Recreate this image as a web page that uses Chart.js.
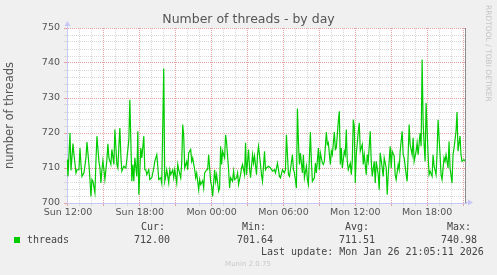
<!DOCTYPE html>
<html lang="en">
<head>
<meta charset="UTF-8">
<title>Number of threads - by day</title>
<script src="https://cdn.jsdelivr.net/npm/chart.js@4.4.1/dist/chart.umd.min.js"></script>
<style>
  html, body { margin: 0; padding: 0; background: #f0f0f0; }
  .chart-container { position: relative; width: 497px; height: 275px; }
</style>
</head>
<body>
<div class="chart-container"><canvas id="chart" width="497" height="275"></canvas></div>
<script>
// minutes after Sun 12:00
var minutes = [
  -5, 0, 10, 15, 25, 30, 40, 45, 55, 60, 65, 70, 80, 90, 95, 105, 110, 115, 120, 125,
  135, 140, 145, 155, 160, 165, 170, 175, 180, 185, 195, 200, 205, 215, 220, 230, 235, 245, 250, 255,
  260, 265, 270, 280, 290, 295, 305, 310, 320, 325,
  330, 335, 345, 350, 355, 365, 370, 380, 385, 390, 395, 405, 410, 420, 430, 435, 445, 450, 455, 465,
  470, 480, 485, 490, 495, 505, 510, 515, 525, 530, 535, 545, 550, 555, 565, 570, 575, 580, 585, 595,
  600, 605, 615, 620, 625, 635, 640, 645, 655, 660, 665,
  675, 680, 685, 695, 700, 705, 715, 720, 725, 735, 740, 745, 755, 760, 765, 770, 775, 785, 790, 795,
  805, 810, 815, 825, 830, 835, 845, 850, 855, 865, 870, 875, 885, 890, 895, 905, 910, 915, 925, 930,
  935, 945, 950, 955, 965, 970, 975, 985, 990, 995, 1005,
  1015, 1025, 1035, 1040, 1050, 1060, 1065, 1075, 1085, 1090, 1095, 1105, 1110, 1115, 1125, 1130, 1135, 1145, 1150, 1155,
  1160, 1165, 1175, 1180, 1185, 1195, 1200, 1205, 1215, 1220, 1225, 1235, 1240, 1245, 1255, 1260, 1265, 1275, 1280, 1285,
  1295, 1300, 1305, 1315, 1320, 1325, 1335, 1340, 1345,
  1355, 1360, 1365, 1370, 1375, 1385, 1390, 1395, 1400, 1405, 1415, 1420, 1425, 1430, 1435, 1440, 1445, 1455, 1460, 1465,
  1475, 1480, 1485, 1495, 1500, 1505, 1515, 1520, 1525, 1535, 1540, 1545, 1555, 1560, 1565, 1575, 1580, 1585, 1595, 1600,
  1605, 1615, 1620, 1625, 1635, 1640, 1645, 1655, 1660, 1665, 1675, 1680, 1685,
  1695, 1700, 1705, 1710, 1715, 1725, 1730, 1735, 1745, 1750, 1755, 1765, 1770, 1775, 1780, 1785, 1790, 1795, 1805, 1810,
  1815, 1825, 1830, 1835, 1845, 1850, 1855, 1865, 1870, 1875, 1885, 1890, 1895, 1905, 1910, 1915, 1925, 1930, 1935, 1945,
  1950, 1955, 1965, 1970, 1975, 1985, 1990
];
var threads = [
  712.4, 707.6, 720.0, 709.3, 717.0, 713.8, 708.6, 709.5, 709.5, 715.7, 711.0, 707.6, 708.6, 712.9, 717.4, 711.0, 706.7, 701.9, 706.7, 706.2,
  702.9, 711.9, 719.1, 711.9, 710.0, 705.7, 709.5, 712.1, 709.5, 706.7, 712.4, 716.9, 712.9, 711.0, 715.3, 711.0, 721.0, 711.0, 710.0, 716.2,
  721.4, 713.4, 709.1, 710.5, 710.0, 712.4, 718.1, 729.5, 706.2, 711.0,
  706.2, 712.9, 707.6, 720.5, 702.4, 715.7, 712.9, 719.1, 709.5, 709.5, 708.1, 709.5, 706.7, 707.2, 710.0, 711.9, 713.8, 710.5, 706.7, 707.2,
  705.7, 738.4, 706.2, 707.6, 709.5, 705.7, 709.5, 708.1, 709.5, 707.2, 709.5, 705.7, 711.0, 709.5, 707.2, 711.4, 722.4, 719.1, 710.0, 711.9,
  709.5, 714.3, 715.3, 711.9, 712.9, 709.5, 707.2, 708.6, 703.8, 706.7, 705.3,
  706.4, 704.3, 708.6, 709.5, 709.5, 713.8, 706.2, 704.8, 701.9, 709.5, 706.2, 708.1, 703.4, 704.3, 716.2, 711.0, 714.8, 712.9, 719.5, 717.2,
  709.5, 704.3, 707.2, 706.2, 709.1, 706.7, 707.2, 708.6, 705.3, 708.1, 710.0, 711.0, 708.1, 717.2, 708.1, 715.3, 710.0, 707.2, 713.8, 711.4,
  713.4, 708.1, 713.8, 716.2, 711.0, 708.1, 706.2, 714.8, 709.5, 710.0, 710.5,
  710.0, 709.1, 709.5, 708.6, 711.4, 707.6, 707.2, 709.5, 708.6, 709.5, 719.5, 708.1, 707.6, 709.5, 713.8, 709.5, 708.6, 704.3, 727.0, 717.6,
  711.0, 714.3, 708.6, 713.8, 707.2, 710.5, 706.7, 705.3, 720.3, 711.9, 706.2, 707.2, 711.4, 708.6, 715.7, 709.5, 714.3, 711.4, 711.0, 711.9,
  720.3, 716.7, 717.2, 711.0, 714.8, 713.8, 720.3, 715.3, 715.7,
  723.4, 726.2, 711.0, 715.7, 710.0, 714.8, 713.8, 721.0, 711.9, 709.5, 711.4, 708.1, 711.9, 723.8, 721.9, 705.7, 713.8, 720.5, 722.9, 714.8,
  716.7, 711.0, 713.8, 708.1, 713.8, 711.9, 720.5, 711.9, 707.6, 711.9, 705.7, 711.9, 708.1, 703.8, 714.3, 710.0, 707.6, 712.9, 710.0, 702.4,
  708.1, 716.2, 710.0, 714.8, 713.4, 708.1, 706.7, 711.0, 709.5, 714.8, 720.5, 713.8, 712.9,
  708.1, 706.2, 713.8, 722.4, 716.7, 713.8, 718.6, 711.9, 714.8, 717.2, 713.8, 720.0, 716.2, 741.0, 723.4, 716.7, 711.9, 728.6, 713.8, 708.1,
  709.1, 707.6, 713.8, 710.5, 708.1, 714.3, 723.8, 713.8, 708.1, 706.7, 712.9, 711.9, 713.8, 710.0, 717.6, 710.0, 705.7, 713.8, 715.7, 720.5,
  726.0, 714.8, 719.1, 713.8, 711.9, 712.4, 712.0
];

// one label every 6 hours, starting at minute 0
var xTickLabels = ['Sun 12:00', 'Sun 18:00', 'Mon 00:00', 'Mon 06:00', 'Mon 12:00', 'Mon 18:00'];
var legendHeads = ['Cur:', 'Min:', 'Avg:', 'Max:'];
var legendValues = ['712.00', '701.64', '711.51', '740.98'];
var lastUpdate = 'Last update: Mon Jan 26 21:05:11 2026';

var MINOR = '#d9d9d9';
var MAJOR = '#e6a0a0';
var AXIS = '#c8c8f8';
var TEXT = '#555555';

Chart.defaults.font.family = '"DejaVu Sans"';
Chart.defaults.color = TEXT;

var muninPlugin = {
    id: 'munin',
    beforeDraw: function (chart) {
        var ctx = chart.ctx, a = chart.chartArea;
        ctx.save();
        ctx.fillStyle = '#f0f0f0';
        ctx.fillRect(0, 0, chart.width, chart.height);
        ctx.fillStyle = '#ffffff';
        ctx.fillRect(a.left, a.top, a.right - a.left, a.bottom - a.top);
        ctx.restore();
    },
    afterDraw: function (chart) {
        var ctx = chart.ctx, a = chart.chartArea;
        var xs = chart.scales.x;
        ctx.save();

        // right edge rule
        var xr = Math.round(xs.getPixelForValue(xs.max)) - 0.5;
        ctx.strokeStyle = '#8a8a8a';
        ctx.lineWidth = 1;
        ctx.beginPath();
        ctx.moveTo(xr, a.top);
        ctx.lineTo(xr, a.bottom);
        ctx.stroke();

        // axis extensions + arrows
        var x0 = Math.round(a.left) + 0.5, y0 = Math.round(a.bottom) - 0.5;
        ctx.strokeStyle = AXIS;
        ctx.beginPath();
        ctx.moveTo(x0, a.top);
        ctx.lineTo(x0, a.top - 3);
        ctx.moveTo(a.right, y0);
        ctx.lineTo(a.right + 3, y0);
        ctx.stroke();
        ctx.fillStyle = AXIS;
        ctx.beginPath();
        ctx.moveTo(x0, a.top - 7);
        ctx.lineTo(x0 - 3, a.top - 2);
        ctx.lineTo(x0 + 3, a.top - 2);
        ctx.closePath();
        ctx.fill();
        ctx.beginPath();
        ctx.moveTo(a.right + 7, y0);
        ctx.lineTo(a.right + 2, y0 - 3);
        ctx.lineTo(a.right + 2, y0 + 3);
        ctx.closePath();
        ctx.fill();

        // title
        ctx.fillStyle = TEXT;
        ctx.font = '12.5px "DejaVu Sans"';
        ctx.textAlign = 'center';
        ctx.textBaseline = 'alphabetic';
        ctx.fillText('Number of threads - by day', chart.width / 2, 23);

        // watermark
        ctx.save();
        ctx.translate(488, 5);
        ctx.rotate(Math.PI / 2);
        ctx.fillStyle = '#c4c4c4';
        ctx.font = '7.5px "DejaVu Sans"';
        ctx.textAlign = 'left';
        ctx.textBaseline = 'middle';
        ctx.fillText('RRDTOOL / TOBI OETIKER', 0, 0);
        ctx.restore();

        // legend
        ctx.fillStyle = '#00cc00';
        ctx.fillRect(14, 237, 6, 6);
        ctx.fillStyle = '#444444';
        ctx.font = '10px "DejaVu Sans Mono"';
        ctx.textAlign = 'left';
        ctx.textBaseline = 'middle';
        ctx.fillText('threads', 27, 240);
        var headX = [141, 242, 345, 447];
        var valX = [134, 237, 339, 441];
        for (var i = 0; i < legendHeads.length; i++) {
            ctx.fillText(legendHeads[i], headX[i], 227.5);
            ctx.fillText(legendValues[i], valX[i], 240);
        }
        ctx.fillText(lastUpdate, 261, 252);

        ctx.fillStyle = '#c8c8c8';
        ctx.font = '7px "DejaVu Sans"';
        ctx.textAlign = 'center';
        ctx.fillText('Munin 2.0.75', 248, 264);
        ctx.restore();
    }
};

var ctx = document.getElementById('chart').getContext('2d');

var chart = new Chart(ctx, {
    type: 'line',
    data: {
        datasets: [{
            label: 'threads',
            data: minutes.map(function (m, i) { return {x: m, y: threads[i]}; }),
            borderColor: '#00cc00',
            borderWidth: 1.2,
            pointRadius: 0,
            tension: 0,
            fill: false
        }]
    },
    options: {
        responsive: false,
        animation: false,
        events: [],
        layout: {
            padding: {top: 28, right: 31, bottom: 0, left: 0}
        },
        plugins: {
            legend: {display: false},
            title: {display: false},
            tooltip: {enabled: false}
        },
        scales: {
            x: {
                type: 'linear',
                min: -5,
                max: 1995,
                afterFit: function (scale) { scale.height = 72; },
                border: {color: AXIS, width: 1, dash: [1, 1]},
                grid: {
                    color: function (c) { return c.tick && c.tick.value % 180 === 0 ? MAJOR : MINOR; },
                    tickColor: function (c) { return c.tick && c.tick.value % 180 === 0 ? MAJOR : MINOR; },
                    tickLength: 3,
                    lineWidth: 1
                },
                ticks: {
                    stepSize: 60,
                    includeBounds: false,
                    autoSkip: false,
                    maxRotation: 0,
                    padding: 1,
                    font: {size: 9.5},
                    callback: function (v) {
                        return v % 360 === 0 ? xTickLabels[v / 360] : '';
                    }
                }
            },
            y: {
                min: 700,
                max: 750,
                afterFit: function (scale) { scale.width = 67; },
                border: {color: AXIS, width: 1, dash: [1, 1]},
                title: {
                    display: true,
                    text: 'number of threads',
                    font: {size: 11.5},
                    padding: {top: 3, bottom: 0}
                },
                grid: {
                    color: function (c) { return c.tick && c.tick.value % 10 === 0 ? MAJOR : MINOR; },
                    tickColor: function (c) { return c.tick && c.tick.value % 10 === 0 ? MAJOR : MINOR; },
                    tickLength: 3,
                    lineWidth: 1
                },
                ticks: {
                    stepSize: 2,
                    maxTicksLimit: 100,
                    autoSkip: false,
                    padding: 4,
                    font: {size: 9.5},
                    callback: function (v) { return v % 10 === 0 ? String(v) : ''; }
                }
            }
        }
    },
    plugins: [muninPlugin]
});
</script>
</body>
</html>
